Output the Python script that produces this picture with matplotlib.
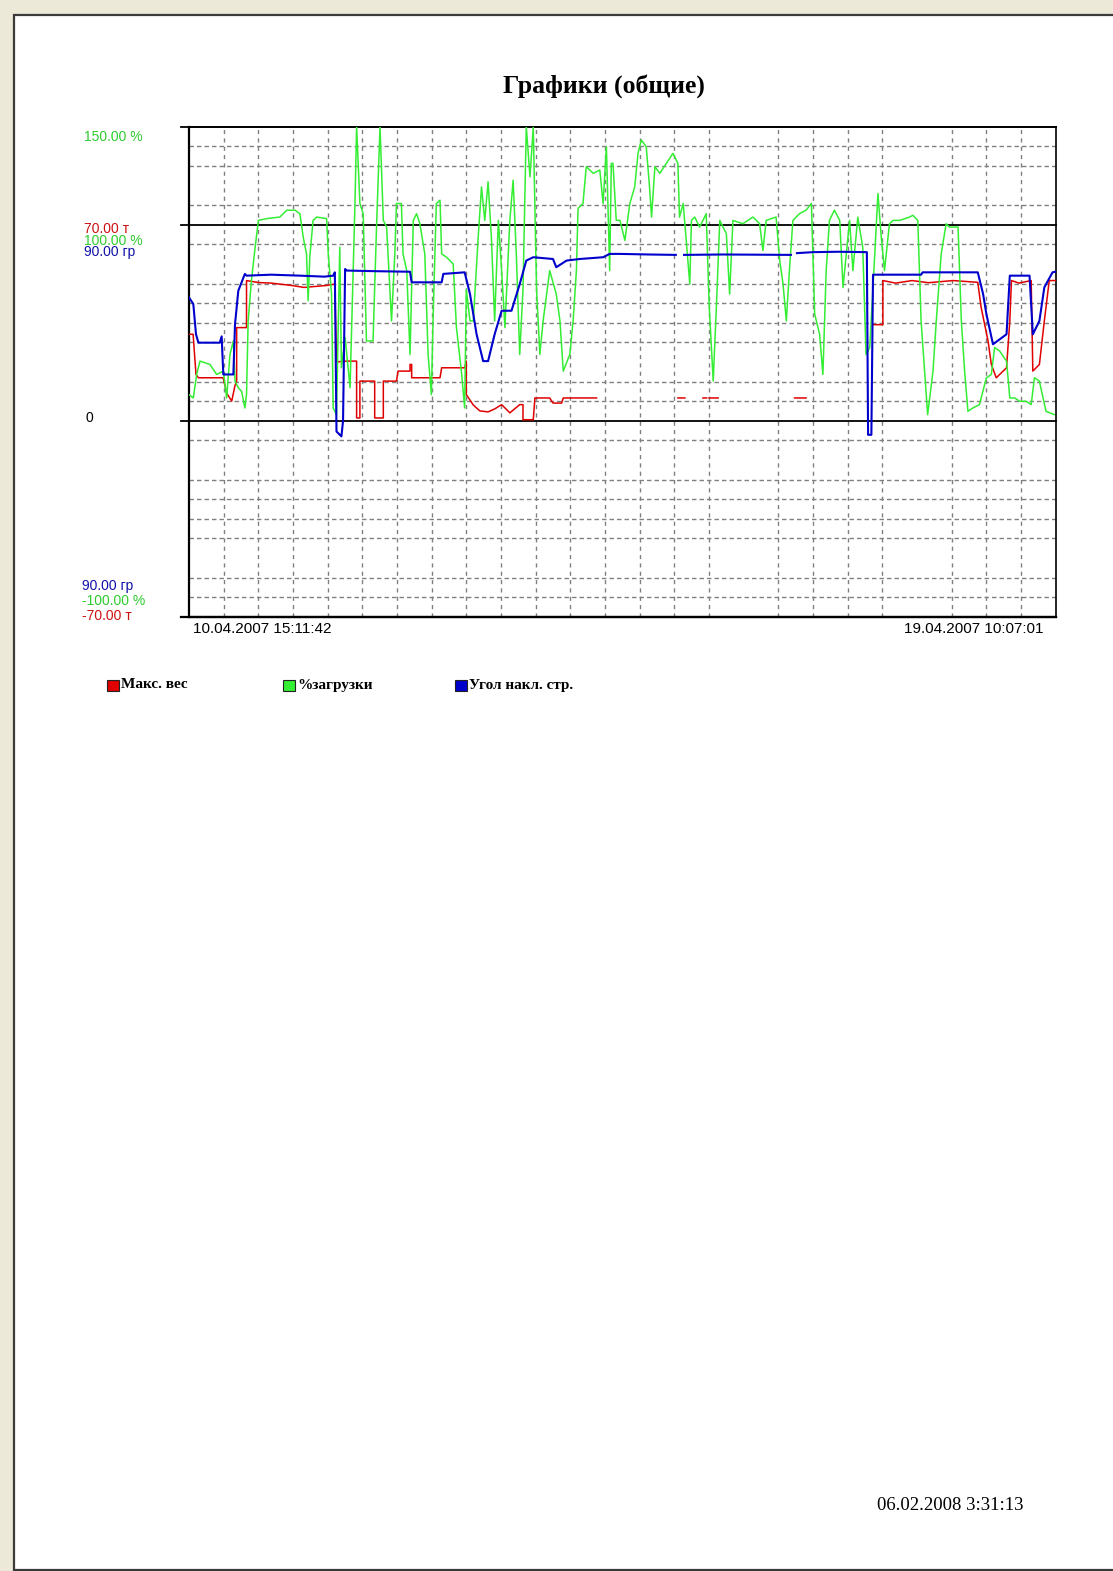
import matplotlib
matplotlib.use("Agg")
import matplotlib.pyplot as plt
import numpy as np
from matplotlib.patches import Rectangle
from matplotlib.transforms import blended_transform_factory

# ---------------- data (time in hours since 10.04.2007 15:11:42) ----------------
t_total = 210.92  # up to 19.04.2007 10:07:01

# Макс. вес -- read as % of the 70 t full scale, converted below
red_t = [0, 1.0, 1.7, 2.3, 8.3, 9.2, 10.4, 11.2, 11.6, 11.6, 14.0, 14.0, 16.9, 20, 25, 28, 33.5, 35.5,
         35.9, 38.4, 40.8, 40.8, 41.6, 41.6, 45.2, 45.2, 47.3, 47.3, 50.5, 50.9, 53.8, 53.8, 54.2, 54.2,
         61.1, 61.5, 67.1, 67.5, 67.5, 69.2, 70.8, 72.8, 74.4, 76.1, 78.1, 80.5, 81.3, 81.3, 83.8, 84.2,
         87.8, 88.6, 90.7, 91.1, 99.2, np.nan,
         119.0, 120.7, np.nan, 125.1, 126.0, np.nan, 126.6, 128.8, np.nan, 147.4, 150.2, np.nan,
         166.5, 168.9, 168.9, 172, 176, 180, 186, 192.0, 192.8, 194.5, 195.3, 196.5, 199.0, 199.8, 200.2,
         202, 205.0, 205.4, 207.0, 208.2, 209.4, 210.9]
red_pct = [44.1, 44.1, 23.6, 21.9, 21.9, 14, 10, 18, 20, 47.5, 47.5, 71.5, 70.5, 70.2, 69, 68, 69, 69.7,
           30, 30.4, 30.4, 1.4, 1.4, 20.2, 20.2, 1.4, 1.4, 20.2, 20.2, 25.3, 25.3, 28.7, 28.7, 21.9,
           21.9, 27.0, 27.0, 30.4, 13.3, 8, 5, 4.5, 6, 8.2, 4, 8.2, 8.2, 0.5, 0.5, 11.6,
           11.6, 9, 9, 11.6, 11.6, np.nan,
           11.6, 11.6, np.nan, 11.6, 11.6, np.nan, 11.6, 11.6, np.nan, 11.6, 11.6, np.nan,
           49, 49, 71.5, 70.2, 71.5, 70.4, 71.5, 70.6, 58, 40.7, 28.7, 21.9, 27, 50.9, 71.5,
           70.2, 71.5, 25.3, 28.7, 50.9, 71.5, 71.5]

# Угол накл. стр. -- read as % of the 90 deg full scale
blue_t = [0, 1.05, 1.7, 2.3, 7.5, 7.95, 8.35, 10.8, 11.2, 12.0, 13.6, 14.0, 20, 27, 33, 35.1, 35.5,
          35.9, 37.1, 37.5, 38.0, 38.4, 45, 53.8, 54.2, 61.5, 61.9, 67.1, 68.4, 70.0, 71.6, 72.8, 74.4,
          76.1, 78.5, 80.5, 82.1, 83.8, 88.6, 89.4, 91.9, 95.1, 100.8, 102.4, 104.9, 112, 118.5, np.nan,
          120.5, 130, 146.5, np.nan, 148.0, 152, 158, 165.0, 165.3, 166.1, 166.5, 178.2, 178.6, 192.0,
          193.3, 194.1, 195.7, 199.0, 199.8, 204.6, 205.4, 207.0, 208.2, 210.2, 210.9]
blue_pct = [62.9, 59.5, 44.1, 39.8, 39.8, 43, 23.6, 23.6, 49.2, 66.3, 74.9, 74, 74.5, 74, 73.5, 74, 75.7,
            -5.5, -8.0, 0, 77.4, 76.6, 76.3, 76.0, 70.6, 70.6, 74.9, 75.7, 64.6, 44.1, 30.4, 30.4, 44.1,
            56.1, 56.1, 69.7, 81.7, 83.4, 82.5, 78.3, 81.7, 82.5, 83.4, 85.1, 85.1, 84.8, 84.6, np.nan,
            84.6, 84.8, 84.6, np.nan, 85.5, 86.0, 86.2, 86.0, -7.2, -7.2, 74.5, 74.5, 75.7, 75.7,
            64.6, 54.4, 39.0, 44.1, 74.0, 74.0, 44.1, 50.9, 68.0, 75.7, 76.0]

# %загрузки (%)
green_t = [0, 1.05, 1.87, 2.68, 5.1, 6.73, 8.35, 9.16, 9.97, 10.8, 11.2, 12.0, 12.8, 13.6, 14.0, 14.4,
           15.2, 16.1, 16.9, 18.9, 22.1, 23.8, 25.8, 27.0, 27.8, 28.6, 29.0, 29.4, 30.2, 31.1, 33.5,
           33.9, 34.7, 35.1, 35.9, 36.7, 37.1, 38.0, 39.2, 40.4, 40.8, 41.6, 42.4, 43.2, 44.8, 45.7,
           46.5, 47.3, 48.1, 49.3, 50.1, 50.5, 51.7, 52.1, 53.0, 53.8, 54.6, 55.4, 56.2, 57.4, 58.2,
           59.0, 59.4, 60.2, 61.1, 61.5, 62.7, 64.3, 65.1, 66.3, 67.1, 67.5, 68.4, 69.2, 70.4, 71.2,
           72.0, 72.8, 73.6, 74.4, 75.3, 76.1, 76.9, 78.1, 78.9, 79.7, 80.5, 81.3, 82.1, 83.0, 83.8,
           84.6, 85.4, 86.2, 87.8, 89.4, 90.3, 91.1, 92.7, 93.5, 94.3, 94.7, 95.9, 96.7, 98.4, 100.0,
           100.8, 101.6, 102.4, 102.8, 103.2, 104.0, 104.9, 106.1, 107.3, 108.5, 109.3, 110.1, 111.3,
           112.1, 112.6, 113.4, 114.6, 116.2, 117.8, 119.0, 119.4, 120.3, 121.1, 121.9, 122.3, 123.1,
           124.3, 125.9, 126.6, 127.6, 128.4, 129.2, 130.8, 131.6, 132.4, 134.8, 137.3, 138.9, 139.7,
           140.5, 142.9, 143.8, 144.6, 145.4, 146.2, 147.0, 148.6, 150.2, 151.5, 152.3, 153.5, 154.3,
           155.1, 155.9, 157.1, 158.4, 159.2, 160.8, 161.6, 162.8, 164.0, 164.8, 165.7, 166.5, 167.7,
           168.5, 169.3, 170.5, 171.4, 173.0, 175.4, 176.2, 177.4, 178.2, 179.0, 179.8, 181.1, 181.9,
           183.1, 184.3, 185.1, 185.9, 187.2, 188.0, 188.8, 189.6, 190.8, 192.4, 194.1, 195.3, 196.1,
           197.3, 199.0, 199.8, 201.0, 202.2, 203.8, 205.0, 205.8, 207.0, 208.6, 210.6]
green_pct = [13.3, 11.6, 23.6, 30.4, 28.7, 23.6, 25.3, 11.6, 33.8, 40.7, 20.2, 16.8, 15.0, 6.5, 13.3, 50.9,
             71.5, 88.5, 102.2, 103.1, 103.9, 107.4, 107.4, 105.6, 93.7, 85.1, 61.2, 83.4, 102.2, 103.9, 103.1,
             85.1, 64.6, 6.5, 3.1, 88.5, 27.0, 42.4, 16.8, 110.8, 150, 110.8, 105.6, 40.7, 40.7, 102.2,
             150, 102.2, 98.8, 50.9, 85.1, 110.8, 110.8, 85.1, 76.6, 33.8, 102.2, 105.6, 100.5, 85.1, 33.8,
             13.3, 50.9, 110.8, 112.5, 85.1, 83.4, 80.0, 47.5, 25.3, 6.5, 67, 50.9, 50.9, 93.7, 119.3,
             102.2, 121.9, 93.7, 50.9, 102.2, 76.6, 47.5, 102.2, 122.7, 83.4, 33.8, 67, 150, 124.4, 150,
             67, 33.8, 50.9, 76.6, 64.6, 50.9, 25.3, 33.8, 50.9, 76.6, 108.3, 110.8, 129.6, 126.2, 127.9,
             110.8, 139.8, 76.6, 131.3, 131.3, 102.2, 102.2, 92.0, 110.8, 119.3, 136.4, 143.2, 139.8,
             119.3, 103.9, 129.6, 126.2, 131.3, 136.4, 131.3, 103.9, 110.8, 90.3, 69.7, 102.2, 103.9,
             98.8, 105.6, 59.5, 20.2, 59.5, 102.2, 95.4, 64.6, 102.2, 100.5, 103.9, 100.5, 86.8,
             102.2, 103.9, 81.7, 69.7, 50.9, 78.3, 102.2, 105.6, 107.4, 110.8, 54.4, 44.1, 23.6,
             76.6, 102.2, 107.4, 102.2, 68.0, 102.2, 76.6, 103.9, 88.5, 33.8, 37.3, 68.0, 115.9,
             93.7, 76.6, 100.5, 102.2, 102.2, 103.9, 104.8, 102.2, 50.9, 27.0, 3.1, 25.3, 50.9,
             85.1, 100.5, 98.8, 98.8, 98.8, 50.9, 25.3, 4.8, 6.5, 8.2, 21.9, 23.6, 37.3,
             35.6, 30.4, 11.6, 11.6, 9.9, 9.9, 8.2, 21.9, 20.2, 4.8, 3.1]

# convert to physical units
red_tonnes = np.array(red_pct, float) * 0.70      # 100 % <-> 70 t
blue_deg = np.array(blue_pct, float) * 0.90       # 100 % <-> 90 deg
green_load = np.array(green_pct, float)           # %

top_label = "150.00 %"
mid_labels = ["70.00 т", "100.00 %", "90.00 гр"]
bot_labels = ["90.00 гр", "-100.00 %", "-70.00 т"]
legend_labels = ["Макс. вес", "%загрузки", "Угол накл. стр."]
start_label = "10.04.2007 15:11:42"
end_label = "19.04.2007 10:07:01"
footer = "06.02.2008 3:31:13"
title = "Графики (общие)"

RED, GREEN, BLUE = "#e00000", "#33ee33", "#0000cc"

# ---------------- figure ----------------
W, H = 1113, 1571
fig = plt.figure(figsize=(W / 100, H / 100), dpi=100)
fig.patch.set_facecolor("#ece9d8")

def fx(px):
    return px / W

def fy(py):
    return 1 - py / H

# page
fig.patches.append(Rectangle((fx(14), fy(1570)), fx(1200) - fx(14), fy(15) - fy(1570),
                             transform=fig.transFigure, facecolor="white",
                             edgecolor="#3a3a3a", linewidth=1.6, zorder=-10))

ax_l, ax_r, ax_t, ax_b = 189, 1055.5, 126.7, 616.7
ax = fig.add_axes([fx(ax_l), fy(ax_b), fx(ax_r) - fx(ax_l), fy(ax_t) - fy(ax_b)])
ax.set_zorder(1)
ax.set_facecolor("white")
ax.set_xlim(0, t_total)
ax.set_ylim(-100, 150)
ax.set_xticks([])
ax.set_yticks([])
for s in ax.spines.values():
    s.set_color("black")
ax.spines["left"].set_linewidth(1.6)
ax.spines["bottom"].set_linewidth(1.6)
ax.spines["top"].set_linewidth(1.2)
ax.spines["right"].set_linewidth(1.2)

# grid
missing_h = {120, 80, 30, -20, -70}
for v in range(-90, 150, 10):
    if v in (0, 100) or v in missing_h:
        continue
    ax.axhline(v, color="#808080", lw=1.0, dashes=(3.2, 2.2), zorder=1)
missing_v = {16, 21}
for i in range(1, 25):
    if i in missing_v:
        continue
    ax.axvline(i * t_total / 25, color="#808080", lw=1.0, dashes=(3.0, 3.0), zorder=1)

trans = blended_transform_factory(ax.transAxes, ax.transData)
for v in (0, 100, 150):
    ax.plot([-0.009, 1], [v, v], color="black", lw=1.3, transform=trans, clip_on=False, zorder=2)
tb = blended_transform_factory(ax.transAxes, ax.transAxes)
ax.plot([-0.009, 1], [0, 0], color="black", lw=1.6, transform=tb, clip_on=False, zorder=2)

# series (on the shared % of full-scale axis)
ax.plot(red_t, red_tonnes / 0.70, color=RED, lw=1.1, zorder=3)
ax.plot(green_t, green_load, color=GREEN, lw=1.1, zorder=4)
ax.plot(blue_t, blue_deg / 0.90, color=BLUE, lw=1.5, zorder=5)

# left scale labels
lab_font = dict(family="Liberation Sans", fontsize=10)
fig.text(fx(84), fy(137), top_label, color="#2ecc2e", va="center", ha="left", **lab_font)
for txt, py, col in zip(mid_labels, [229, 241, 252], ["#cc1111", "#2ecc2e", "#1111aa"]):
    fig.text(fx(84), fy(py), txt, color=col, va="center", ha="left", **lab_font)
fig.text(fx(85), fy(418), "0", color="black", va="center", ha="left", **lab_font)
for txt, py, col in zip(bot_labels, [586, 601, 616], ["#1111aa", "#2ecc2e", "#cc1111"]):
    fig.text(fx(82), fy(py), txt, color=col, va="center", ha="left", **lab_font)

# date labels
date_font = dict(family="Liberation Sans", fontsize=11)
fig.text(fx(193), fy(629), start_label, color="black", va="center", ha="left", **date_font)
fig.text(fx(1044), fy(629), end_label, color="black", va="center", ha="right", **date_font)

# title
fig.text(fx(604), fy(86), title, family="Liberation Serif", fontweight="bold", fontsize=18.5,
         ha="center", va="center", color="black")

# legend
for txt, col, px in zip(legend_labels, [RED, GREEN, BLUE], [107, 283, 455]):
    fig.patches.append(Rectangle((fx(px), fy(691)), fx(12), 11 / H, transform=fig.transFigure,
                                 facecolor=col, edgecolor="#222222", linewidth=0.8, zorder=3))
    fig.text(fx(px + 14), fy(685), txt, family="Liberation Serif", fontweight="bold",
             fontsize=11, ha="left", va="center", color="black")

# footer
fig.text(fx(877), fy(1505), footer, family="Liberation Serif", fontsize=13.5, ha="left",
         va="center", color="black")

fig.savefig("out.png", dpi=100, facecolor=fig.get_facecolor())
